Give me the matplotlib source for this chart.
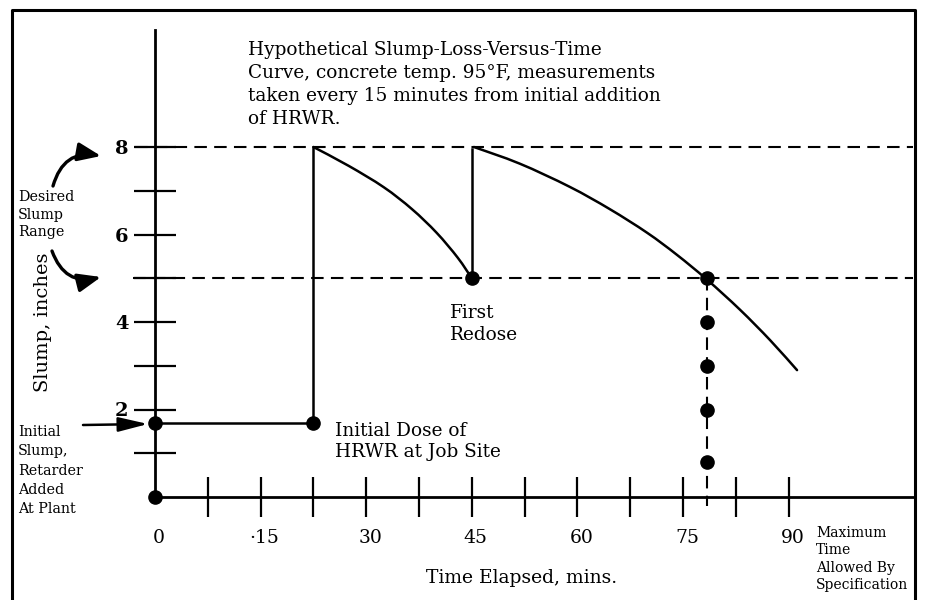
import matplotlib
matplotlib.use("Agg")
import matplotlib.pyplot as plt
from matplotlib.transforms import ScaledTranslation
from matplotlib.path import Path
from matplotlib.patches import PathPatch

# ---- data ----
x_major = [0, 15, 30, 45, 60, 75, 90]
x_major_labels = ["0", "·15", "30", "45", "60", "75", "90"]
x_minor = [7.5, 22.5, 37.5, 52.5, 67.5, 82.5]
y_major = [2, 4, 6, 8]
y_minor = [1, 3, 5, 7]

range_low, range_high = 5.0, 8.0       # desired slump range (inches)
initial_slump = 1.69                   # slump at plant / arrival
dose1_time = 22.5                      # initial HRWR dose (min)
redose_time = 45.0                     # first redose (min)
limit_time = 78.4                      # time when slump falls to 5 in.

curve1_t = [22.5, 27.5, 32.5, 36.5, 40.0, 43.0, 45.0]
curve1_s = [8.0, 7.57, 7.08, 6.58, 6.04, 5.47, 5.0]
curve2_t = [45.3, 51.8, 58.9, 64.6, 69.9, 74.1, 78.4, 83.1, 87.4, 91.2]
curve2_s = [8.0, 7.62, 7.09, 6.58, 6.04, 5.54, 4.97, 4.28, 3.58, 2.90]
limit_dots_s = [5.0, 4.0, 3.0, 2.0, 0.8]

plt.rcParams['font.family'] = ['DejaVu Serif']

fig = plt.figure(figsize=(9.25, 6), dpi=100)
ax = fig.add_axes([0, 0, 1, 1])
PXX, PXY = 7.04, 43.75   # pixels per minute / per inch (only for view limits)
ax.set_xlim(-155 / PXX, (925 - 155) / PXX)
ax.set_ylim((497 - 600) / PXY, 497 / PXY)

# axes spines
for s in ['top', 'right']:
    ax.spines[s].set_visible(False)
ax.spines['left'].set_position(('data', 0))
ax.spines['bottom'].set_position(('data', 0))
ax.spines['left'].set_bounds(0, 10.67)
ax.spines['bottom'].set_bounds(0, 108.0)
ax.spines['left'].set_linewidth(2.0)
ax.spines['bottom'].set_linewidth(2.0)

ax.set_xticks(x_major)
ax.set_xticklabels(x_major_labels)
ax.set_xticks(x_minor, minor=True)
ax.set_yticks(y_major)
ax.set_yticklabels([str(v) for v in y_major])
ax.set_yticks(y_minor, minor=True)
ax.tick_params(axis='both', which='both', direction='inout', width=1.6, color='black')
ax.tick_params(axis='x', which='both', length=29.5)
ax.tick_params(axis='y', which='both', length=30)
ax.tick_params(axis='x', which='major', labelsize=13.5, pad=8)
ax.tick_params(axis='y', which='major', labelsize=14, pad=4)
for lab in ax.get_yticklabels():
    lab.set_fontweight('bold')
for lab in ax.get_xticklabels():
    lab.set_transform(lab.get_transform() + ScaledTranslation(4 / 100, 0, fig.dpi_scale_trans))
ax.xaxis.get_major_ticks()[0].tick1line.set_visible(False)

# dashed desired-range lines
dash = (0, (6, 3.5))
ax.plot([-2.85, 107.7], [range_high, range_high], color='black', lw=1.5, ls=dash)
ax.plot([-3.1, 107.7], [range_low, range_low], color='black', lw=1.5, ls=dash)
# vertical dashed line at time limit
ax.plot([limit_time, limit_time], [range_low, -0.2], color='black', lw=1.5, ls=dash)


def smooth_curve(ts, ss, **kw):
    """Draw a smooth (Bezier) line through the read points."""
    pts = list(zip(ts, ss))
    n = len(pts)
    verts = [pts[0]]
    codes = [Path.MOVETO]
    for i in range(n - 1):
        p0 = pts[i - 1] if i > 0 else pts[i]
        p1 = pts[i]
        p2 = pts[i + 1]
        p3 = pts[i + 2] if i + 2 < n else pts[i + 1]
        c1 = (p1[0] + (p2[0] - p0[0]) / 6, p1[1] + (p2[1] - p0[1]) / 6)
        c2 = (p2[0] - (p3[0] - p1[0]) / 6, p2[1] - (p3[1] - p1[1]) / 6)
        verts += [c1, c2, p2]
        codes += [Path.CURVE4] * 3
    ax.add_patch(PathPatch(Path(verts, codes), fill=False, **kw))


# slump history
ax.plot([0, dose1_time], [initial_slump, initial_slump], color='black', lw=1.8)
ax.plot([dose1_time, dose1_time], [initial_slump, range_high], color='black', lw=1.8)
smooth_curve(curve1_t, curve1_s, edgecolor='black', lw=1.8, capstyle='round')
ax.plot([redose_time, redose_time], [range_low, 7.95], color='black', lw=1.8)
smooth_curve(curve2_t, curve2_s, edgecolor='black', lw=1.8, capstyle='round')

# dots
ax.plot([0, 0, dose1_time, redose_time], [0, initial_slump, initial_slump, range_low],
        'o', color='black', ms=9.5)
ax.plot([limit_time] * len(limit_dots_s), limit_dots_s, 'o', color='black', ms=9.5)

# frame (scanned figure border)
ax.plot([12 / 925, 12 / 925, 915 / 925, 915 / 925], [-0.01, 1 - 10 / 600, 1 - 10 / 600, -0.01],
        transform=ax.transAxes, color='black', lw=2.2, clip_on=False)


def fp(x, y):
    return (x, 600 - y)


# texts
ax.annotate("Hypothetical Slump-Loss-Versus-Time\nCurve, concrete temp. 95°F, measurements\n"
            "taken every 15 minutes from initial addition\nof HRWR.",
            xy=fp(248, 41), xycoords='figure pixels', ha='left', va='top',
            fontsize=13.3, linespacing=1.36)
ax.annotate("Slump, inches", xy=fp(43, 322), xycoords='figure pixels', ha='center', va='center',
            rotation=90, fontsize=14)
ax.annotate("Desired\nSlump\nRange", xy=fp(18, 190), xycoords='figure pixels', ha='left', va='top',
            fontsize=10.3, linespacing=1.33)
ax.annotate("Initial\nSlump,\nRetarder\nAdded\nAt Plant", xy=fp(18, 425), xycoords='figure pixels',
            ha='left', va='top', fontsize=10.3, linespacing=1.48)
ax.annotate("First\nRedose", xy=fp(450, 304), xycoords='figure pixels', ha='left', va='top',
            fontsize=13.3, linespacing=1.3)
ax.annotate("Initial Dose of\nHRWR at Job Site", xy=fp(335, 422), xycoords='figure pixels',
            ha='left', va='top', fontsize=13.3, linespacing=1.2)
ax.annotate("Time Elapsed, mins.", xy=fp(522, 578), xycoords='figure pixels', ha='center',
            va='center', fontsize=13.5)
ax.annotate("Maximum\nTime\nAllowed By\nSpecification", xy=fp(816, 526), xycoords='figure pixels',
            ha='left', va='top', fontsize=10, linespacing=1.3)

# arrows
head = '-|>,head_length=0.7,head_width=0.28'
ax.annotate("", xy=fp(101, 156), xytext=fp(53, 186), xycoords='figure pixels',
            textcoords='figure pixels',
            arrowprops=dict(arrowstyle=head, connectionstyle='arc3,rad=-0.45', lw=2.4,
                            color='black', mutation_scale=20, shrinkA=0, shrinkB=0))
ax.annotate("", xy=fp(101, 277), xytext=fp(52, 251), xycoords='figure pixels',
            textcoords='figure pixels',
            arrowprops=dict(arrowstyle=head, connectionstyle='arc3,rad=0.45', lw=2.4,
                            color='black', mutation_scale=20, shrinkA=0, shrinkB=0))
ax.annotate("", xy=fp(148, 424), xytext=fp(83, 425), xycoords='figure pixels',
            textcoords='figure pixels',
            arrowprops=dict(arrowstyle='-|>,head_length=0.9,head_width=0.22',
                            lw=1.8, color='black', mutation_scale=20, shrinkA=0, shrinkB=0))

fig.savefig("out.png", dpi=100)
